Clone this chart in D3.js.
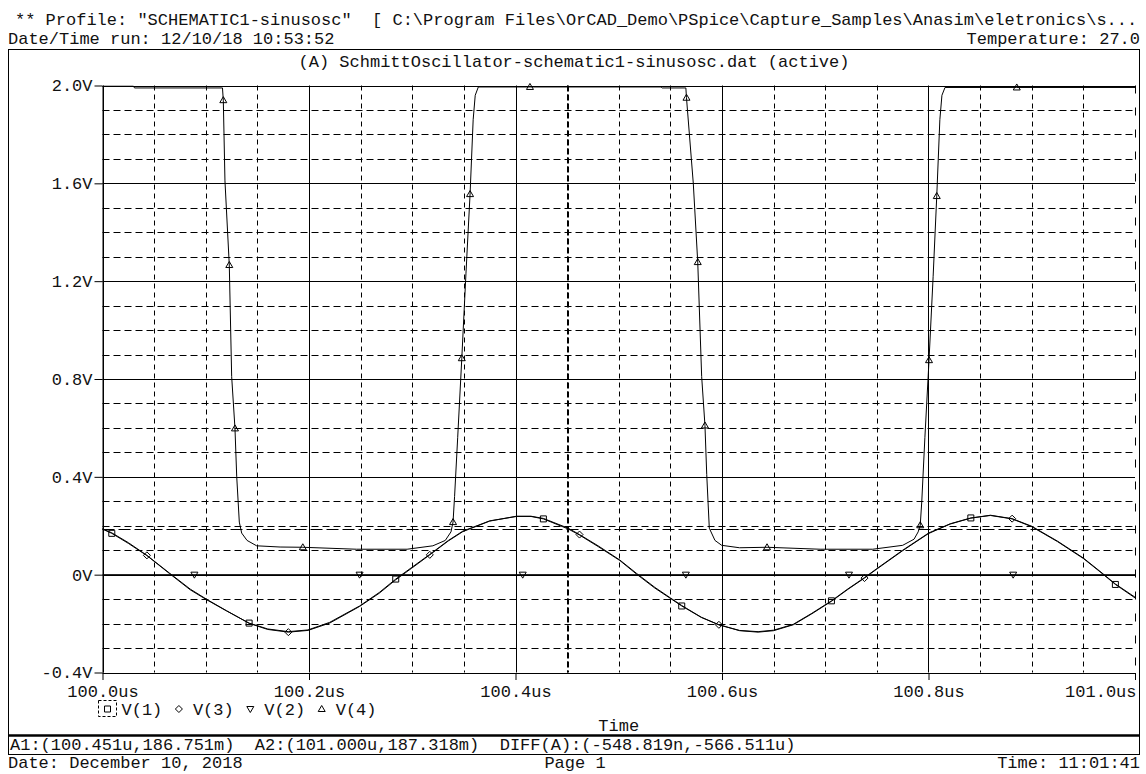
<!DOCTYPE html>
<html>
<head>
<meta charset="utf-8">
<script src="https://cdn.jsdelivr.net/npm/d3@7"></script>
<style>
    body { margin: 0; background: #fff; }
    text { font-family: "Liberation Mono", "DejaVu Sans Mono", monospace; font-size: 17px; fill: #111; white-space: pre; }
</style>
</head>
<body>
<svg id="chart" xml:space="preserve"></svg>
<script>
// header / footer texts
let profileText = "** Profile: \"SCHEMATIC1-sinusosc\"  [ C:\\Program Files\\OrCAD_Demo\\PSpice\\Capture_Samples\\Anasim\\eletronics\\s...";
let runText = "Date/Time run: 12/10/18 10:53:52";
let tempText = "Temperature: 27.0";
let titleText = "(A) SchmittOscillator-schematic1-sinusosc.dat (active)";
let cursorText = "A1:(100.451u,186.751m)  A2:(101.000u,187.318m)  DIFF(A):(-548.819n,-566.511u)";
let dateText = "Date: December 10, 2018";
let pageText = "Page 1";
let timeText = "Time: 11:01:41";
let xTitle = "Time";

// axes
let xTickValues = [100.0, 100.2, 100.4, 100.6, 100.8, 101.0];
let xTickLabels = ["100.0us", "100.2us", "100.4us", "100.6us", "100.8us", "101.0us"];
let xMinorValues = [100.05, 100.1, 100.15, 100.25, 100.3, 100.35, 100.45, 100.5, 100.55,
    100.65, 100.7, 100.75, 100.85, 100.9, 100.95];
let yTickValues = [-0.4, 0, 0.4, 0.8, 1.2, 1.6, 2.0];
let yTickLabels = ["-0.4V", "0V", "0.4V", "0.8V", "1.2V", "1.6V", "2.0V"];
let yMinorValues = [-0.3, -0.2, -0.1, 0.1, 0.2, 0.3, 0.5, 0.6, 0.7, 0.9, 1.0, 1.1,
    1.3, 1.4, 1.5, 1.7, 1.8, 1.9];

// cursors
let cursorA1Time = 100.451;
let cursorA2Time = 101.0;
let cursorLevel = 0.187;

// V(1) and V(3): sampled at the same times (us)
let waveTimes = [100.000, 100.009, 100.025, 100.043, 100.065, 100.085, 100.101, 100.120, 100.142,
    100.160, 100.180, 100.199, 100.220, 100.249, 100.268, 100.284, 100.299, 100.317, 100.335,
    100.349, 100.375, 100.401, 100.415, 100.427, 100.451, 100.462, 100.480, 100.501, 100.517,
    100.535, 100.550, 100.561, 100.580, 100.597, 100.617, 100.635, 100.650, 100.669, 100.687,
    100.706, 100.722, 100.738, 100.750, 100.775, 100.800, 100.821, 100.841, 100.860, 100.881,
    100.900, 100.925, 100.950, 100.966, 100.981, 101.000];
let v1Values = [0.186, 0.169, 0.128, 0.078, 0.004, -0.062, -0.103, -0.148, -0.198,
    -0.222, -0.233, -0.226, -0.195, -0.128, -0.073, -0.018, 0.028, 0.083, 0.140,
    0.178, 0.220, 0.238, 0.238, 0.228, 0.187, 0.162, 0.115, 0.058, 0.003,
    -0.055, -0.097, -0.128, -0.175, -0.205, -0.228, -0.233, -0.227, -0.203, -0.158,
    -0.107, -0.058, -0.012, 0.025, 0.100, 0.170, 0.208, 0.232, 0.242, 0.228,
    0.196, 0.135, 0.066, 0.012, -0.040, -0.095];
let v3Values = [0.188, 0.171, 0.131, 0.079, 0.006, -0.059, -0.101, -0.147, -0.199,
    -0.224, -0.235, -0.228, -0.198, -0.130, -0.076, -0.021, 0.025, 0.081, 0.138,
    0.176, 0.219, 0.239, 0.239, 0.230, 0.190, 0.164, 0.118, 0.060, 0.006,
    -0.052, -0.095, -0.126, -0.174, -0.205, -0.229, -0.235, -0.229, -0.205, -0.160,
    -0.109, -0.060, -0.014, 0.023, 0.098, 0.168, 0.207, 0.231, 0.243, 0.229,
    0.198, 0.137, 0.068, 0.014, -0.038, -0.092];

// V(2)
let v2Times = [100.0, 101.0];
let v2Values = [0, 0];

// V(4): Schmitt output
let v4Times = [100.000, 100.030, 100.031, 100.1162, 100.1170, 100.1186, 100.1228, 100.1251,
    100.1283, 100.1300, 100.1325, 100.1348, 100.1400, 100.1493, 100.1720, 100.1940, 100.2460,
    100.2950, 100.3200, 100.3320, 100.3375, 100.3395, 100.3410, 100.3440, 100.3480, 100.3520,
    100.3560, 100.3590, 100.3610, 100.3640, 100.4140, 100.5410, 100.5420, 100.5650, 100.5656,
    100.5722, 100.5765, 100.5803, 100.5835, 100.5852, 100.5877, 100.5932, 100.5997, 100.6170,
    100.6436, 100.6950, 100.7460, 100.7750, 100.7860, 100.7900, 100.7920, 100.7935, 100.7965,
    100.8005, 100.8045, 100.8080, 100.8110, 100.8130, 100.8160, 100.8855, 101.0000];
let v4Values = [1.997, 1.997, 1.990, 1.990, 1.940, 1.610, 1.266, 0.810,
    0.598, 0.400, 0.215, 0.170, 0.140, 0.118, 0.113, 0.112, 0.104,
    0.104, 0.118, 0.140, 0.175, 0.215, 0.320, 0.560, 0.885, 1.230,
    1.556, 1.860, 1.960, 1.994, 1.994, 1.994, 1.990, 1.990, 1.950,
    1.600, 1.278, 0.810, 0.610, 0.410, 0.190, 0.140, 0.120, 0.110,
    0.112, 0.104, 0.104, 0.120, 0.145, 0.175, 0.202, 0.300, 0.560,
    0.877, 1.220, 1.548, 1.860, 1.960, 1.992, 1.992, 1.992];

// marker positions along each trace (us)
let v1Marks = [100.009, 100.142, 100.284, 100.427, 100.561, 100.706, 100.841, 100.981];
let v3Marks = [100.043, 100.180, 100.317, 100.462, 100.597, 100.738, 100.881];
let v2Marks = [100.089, 100.249, 100.407, 100.565, 100.723, 100.882];
let v4Marks = [100.1170, 100.1228, 100.1283, 100.1940, 100.3395, 100.3480, 100.3560, 100.4140,
    100.5656, 100.5765, 100.5835, 100.6436, 100.7920, 100.8005, 100.8080, 100.8855];

let legendNames = ["V(1)", "V(3)", "V(2)", "V(4)"];
let legendSymbols = ["square", "diamond", "down", "up"];

let W = 1146, H = 774;
let frame = {left: 8.5, right: 1139.5, top: 49.5, bottom: 754.5};
let plotBox = {left: 102.5, right: 1135, top: 85.5, bottom: 672.5};

let symbolPaths = {
    square: "M-3,-3h6v6h-6Z",
    diamond: "M0,-3.5L3.5,0L0,3.5L-3.5,0Z",
    up: "M0,-3.5L3.5,2.5L-3.5,2.5Z",
    down: "M0,3.5L3.5,-2.5L-3.5,-2.5Z"
};

let svg = d3.select("#chart")
    .attr("width", W)
    .attr("height", H);

let x = d3.scaleLinear()
    .domain([100.0, 101.0])
    .range([plotBox.left, plotBox.right]);
let y = d3.scaleLinear()
    .domain([-0.4, 2.0])
    .range([plotBox.bottom, plotBox.top]);

function valueAt(times, values, t) {
    let i = d3.bisectLeft(times, t);
    if (i <= 0) return values[0];
    if (i >= times.length) return values[values.length - 1];
    let t0 = times[i - 1], t1 = times[i];
    let f = (t - t0) / (t1 - t0);
    return values[i - 1] + f * (values[i] - values[i - 1]);
}

function drawHeader() {
    svg.append("text").attr("x", 15).attr("y", 25).text(profileText);
    svg.append("text").attr("x", 8).attr("y", 44).text(runText);
    svg.append("text").attr("x", 1140).attr("y", 44)
        .attr("text-anchor", "end").text(tempText);

    svg.append("rect")
        .attr("x", frame.left).attr("y", frame.top)
        .attr("width", frame.right - frame.left)
        .attr("height", frame.bottom - frame.top)
        .attr("fill", "none").attr("stroke", "#000");

    svg.append("text").attr("x", (frame.left + frame.right) / 2).attr("y", 67)
        .attr("text-anchor", "middle").text(titleText);
}

function drawGrid() {
    let g = svg.append("g").attr("class", "grid");

    g.selectAll(".xminor").data(xMinorValues).enter()
        .append("line")
        .attr("x1", function (d) { return Math.round(x(d)) + 0.5; })
        .attr("x2", function (d) { return Math.round(x(d)) + 0.5; })
        .attr("y1", plotBox.top).attr("y2", plotBox.bottom)
        .attr("stroke", "#000").attr("stroke-dasharray", "5,4");

    g.selectAll(".yminor").data(yMinorValues).enter()
        .append("line")
        .attr("x1", plotBox.left).attr("x2", plotBox.right)
        .attr("y1", function (d) { return Math.round(y(d)) + 0.5; })
        .attr("y2", function (d) { return Math.round(y(d)) + 0.5; })
        .attr("stroke", "#000").attr("stroke-dasharray", "7,4");

    // major lines, right one is covered by the A2 cursor
    g.selectAll(".xmajor").data(xTickValues.slice(0, -1)).enter()
        .append("line")
        .attr("x1", function (d) { return Math.round(x(d)) + 0.5; })
        .attr("x2", function (d) { return Math.round(x(d)) + 0.5; })
        .attr("y1", plotBox.top).attr("y2", plotBox.bottom)
        .attr("stroke", "#000");

    g.selectAll(".ymajor").data(yTickValues).enter()
        .append("line")
        .attr("x1", plotBox.left).attr("x2", plotBox.right)
        .attr("y1", function (d) { return Math.round(y(d)) + 0.5; })
        .attr("y2", function (d) { return Math.round(y(d)) + 0.5; })
        .attr("stroke", "#000");
}

function drawCursors() {
    let g = svg.append("g").attr("class", "cursors");
    let xa = Math.round(x(cursorA1Time));
    g.append("line")
        .attr("x1", xa).attr("x2", xa)
        .attr("y1", plotBox.top).attr("y2", plotBox.bottom)
        .attr("stroke", "#000").attr("stroke-width", 2)
        .attr("stroke-dasharray", "6,3");
    let xb = Math.round(x(cursorA2Time)) + 0.5;
    g.append("line")
        .attr("x1", xb).attr("x2", xb)
        .attr("y1", plotBox.top).attr("y2", plotBox.bottom)
        .attr("stroke", "#000").attr("stroke-dasharray", "8,14");
    let yc = Math.round(y(cursorLevel)) + 0.5;
    g.append("line")
        .attr("x1", plotBox.left).attr("x2", plotBox.right)
        .attr("y1", yc).attr("y2", yc)
        .attr("stroke", "#000").attr("stroke-dasharray", "12,4");
}

function drawAxes() {
    let yAxis = d3.axisLeft(y)
        .tickValues(yTickValues)
        .tickFormat(function (d, i) { return yTickLabels[i]; })
        .tickSize(8)
        .tickSizeOuter(0)
        .tickPadding(2);
    let ga = svg.append("g")
        .attr("transform", "translate(" + plotBox.left + ",0)")
        .call(yAxis);
    ga.select(".domain").attr("stroke", "#000");
    ga.selectAll("text").attr("font-family", null).attr("font-size", null).attr("fill", null);

    let xAxis = d3.axisBottom(x)
        .tickValues(xTickValues)
        .tickFormat(function (d, i) { return xTickLabels[i]; })
        .tickSize(7)
        .tickSizeOuter(0)
        .tickPadding(4.5);
    let gb = svg.append("g")
        .attr("transform", "translate(0," + (plotBox.bottom + 0.5) + ")")
        .call(xAxis);
    gb.selectAll("text").attr("font-family", null).attr("font-size", null).attr("fill", null);
    gb.selectAll(".tick").filter(function (d) { return d === 101.0; })
        .select("text").attr("text-anchor", "end").attr("x", 1);

    svg.append("text")
        .attr("x", (plotBox.left + plotBox.right) / 2).attr("y", 731)
        .attr("text-anchor", "middle").text(xTitle);
}

function drawTrace(times, values) {
    let line = d3.line()
        .x(function (d, i) { return x(times[i]); })
        .y(function (d) { return y(d); });
    svg.append("path")
        .datum(values)
        .attr("d", line)
        .attr("fill", "none")
        .attr("stroke", "#000")
        .attr("stroke-width", 1);
}

function drawMarkers(times, values, marks, symbol) {
    svg.append("g").selectAll("path").data(marks).enter()
        .append("path")
        .attr("d", symbolPaths[symbol])
        .attr("transform", function (t) {
            return "translate(" + x(t) + "," + y(valueAt(times, values, t)) + ")";
        })
        .attr("fill", "none")
        .attr("stroke", "#000");
}

function drawLegend() {
    let g = svg.append("g").attr("class", "legend");
    let startX = 107.5, step = 71.4, ly = 709;
    g.append("rect")
        .attr("x", 98.5).attr("y", 700.5).attr("width", 18).attr("height", 16)
        .attr("fill", "none").attr("stroke", "#000").attr("stroke-dasharray", "3,2");
    legendNames.forEach(function (name, i) {
        let cx = startX + i * step;
        g.append("path")
            .attr("d", symbolPaths[legendSymbols[i]])
            .attr("transform", "translate(" + cx + "," + ly + ")")
            .attr("fill", "none").attr("stroke", "#000");
        g.append("text").attr("x", cx + 14).attr("y", ly + 6).text(name);
    });
}

function drawFooter() {
    svg.append("line")
        .attr("x1", frame.left).attr("x2", frame.right)
        .attr("y1", 735.5).attr("y2", 735.5)
        .attr("stroke", "#000").attr("stroke-width", 2.5);
    svg.append("text").attr("x", 10).attr("y", 750).text(cursorText);
    svg.append("text").attr("x", 8).attr("y", 768).text(dateText);
    svg.append("text").attr("x", 575).attr("y", 768).attr("text-anchor", "middle").text(pageText);
    svg.append("text").attr("x", 1140).attr("y", 768).attr("text-anchor", "end").text(timeText);
}

drawHeader();
drawGrid();
drawCursors();
drawAxes();
drawTrace(waveTimes, v1Values);
drawTrace(waveTimes, v3Values);
drawTrace(v2Times, v2Values);
drawTrace(v4Times, v4Values);
drawMarkers(waveTimes, v1Values, v1Marks, "square");
drawMarkers(waveTimes, v3Values, v3Marks, "diamond");
drawMarkers(v2Times, v2Values, v2Marks, "down");
drawMarkers(v4Times, v4Values, v4Marks, "up");
drawLegend();
drawFooter();
</script>
</body>
</html>
